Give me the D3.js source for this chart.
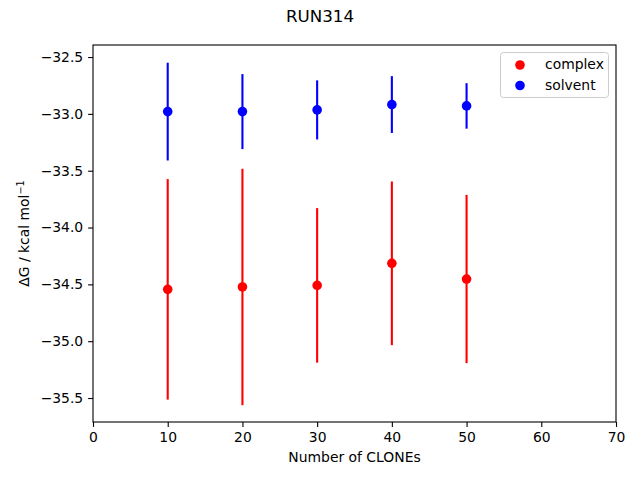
<!DOCTYPE html>
<html><head><meta charset="utf-8">
<script src="https://cdn.jsdelivr.net/npm/d3@7"></script>
<style>body{margin:0;background:#fff}text{font-family:"DejaVu Sans",sans-serif;fill:#000}</style>
</head><body>
<svg id="c" width="640" height="480"></svg>
<script>
const clones = [10, 20, 30, 40, 50];
const complexMean = [-34.544, -34.523, -34.509, -34.315, -34.453];
const complexErr = [0.97, 1.04, 0.68, 0.72, 0.74];
const solventMean = [-32.98, -32.98, -32.965, -32.918, -32.93];
const solventErr = [0.43, 0.33, 0.26, 0.25, 0.20];
const xTicks = [0, 10, 20, 30, 40, 50, 60, 70];
const yTicks = [-32.5, -33.0, -33.5, -34.0, -34.5, -35.0, -35.5];

const svg = d3.select("#c");
const L = 93, R = 616, T = 45, B = 422;
const x = d3.scaleLinear().domain([0, 70]).range([L, R]);
const y = d3.scaleLinear().domain([-32.394, -35.711]).range([T, B]);

svg.append("rect").attr("width", 640).attr("height", 480).attr("fill", "#fff");

const fmt = v => (v < 0 ? "\u2212" : "") + Math.abs(v).toFixed(1);
const xAxis = svg.append("g").attr("transform", `translate(0,${B})`)
  .call(d3.axisBottom(x).tickValues(xTicks).tickFormat(d3.format("d")).tickSize(4.9).tickPadding(4.9));
const yAxis = svg.append("g").attr("transform", `translate(${L},0)`)
  .call(d3.axisLeft(y).tickValues(yTicks).tickFormat(fmt).tickSize(4.9).tickPadding(4.9));
[xAxis, yAxis].forEach(a => {
  a.select(".domain").remove();
  a.selectAll("line").attr("stroke", "#000").attr("stroke-width", 1.1);
  a.selectAll("text").attr("font-size", 13.9).attr("font-family", "DejaVu Sans");
});

function series(mean, err, color) {
  svg.append("g").selectAll("line").data(clones).join("line")
    .attr("x1", d => x(d)).attr("x2", d => x(d))
    .attr("y1", (d, i) => y(mean[i] + err[i])).attr("y2", (d, i) => y(mean[i] - err[i]))
    .attr("stroke", color).attr("stroke-width", 2.1);
  svg.append("g").selectAll("circle").data(clones).join("circle")
    .attr("cx", d => x(d)).attr("cy", (d, i) => y(mean[i])).attr("r", 4.8).attr("fill", color);
}
series(complexMean, complexErr, "red");
series(solventMean, solventErr, "blue");

svg.append("rect").attr("x", L).attr("y", T).attr("width", R - L).attr("height", B - T)
  .attr("fill", "none").attr("stroke", "#000").attr("stroke-width", 1.1);

// legend
const lg = svg.append("g");
lg.append("rect").attr("x", 500.5).attr("y", 52.5).attr("width", 108).attr("height", 45).attr("rx", 3)
  .attr("fill", "#fff").attr("fill-opacity", 0.8).attr("stroke", "#cccccc").attr("stroke-width", 1);
const leg = [["complex", "red"], ["solvent", "blue"]];
leg.forEach((d, i) => {
  lg.append("circle").attr("cx", 520).attr("cy", 65 + i * 20.5).attr("r", 4.8).attr("fill", d[1]);
  lg.append("text").attr("x", 545).attr("y", 64.5 + i * 20.5).attr("dy", "0.35em").attr("font-size", 13.9).text(d[0]);
});

svg.append("text").attr("x", 320).attr("y", 22).attr("text-anchor", "middle").attr("font-size", 16.7).text("RUN314");
svg.append("text").attr("x", (L + R) / 2).attr("y", 462).attr("text-anchor", "middle").attr("font-size", 13.9).text("Number of CLONEs");
const yl = svg.append("text").attr("transform", `translate(29,${(T + B) / 2}) rotate(-90)`)
  .attr("text-anchor", "middle").attr("font-size", 13.9);
yl.append("tspan").text("\u0394G / kcal mol");
yl.append("tspan").attr("dy", -5).attr("font-size", 9.7).text("\u22121");
</script>
</body></html>
